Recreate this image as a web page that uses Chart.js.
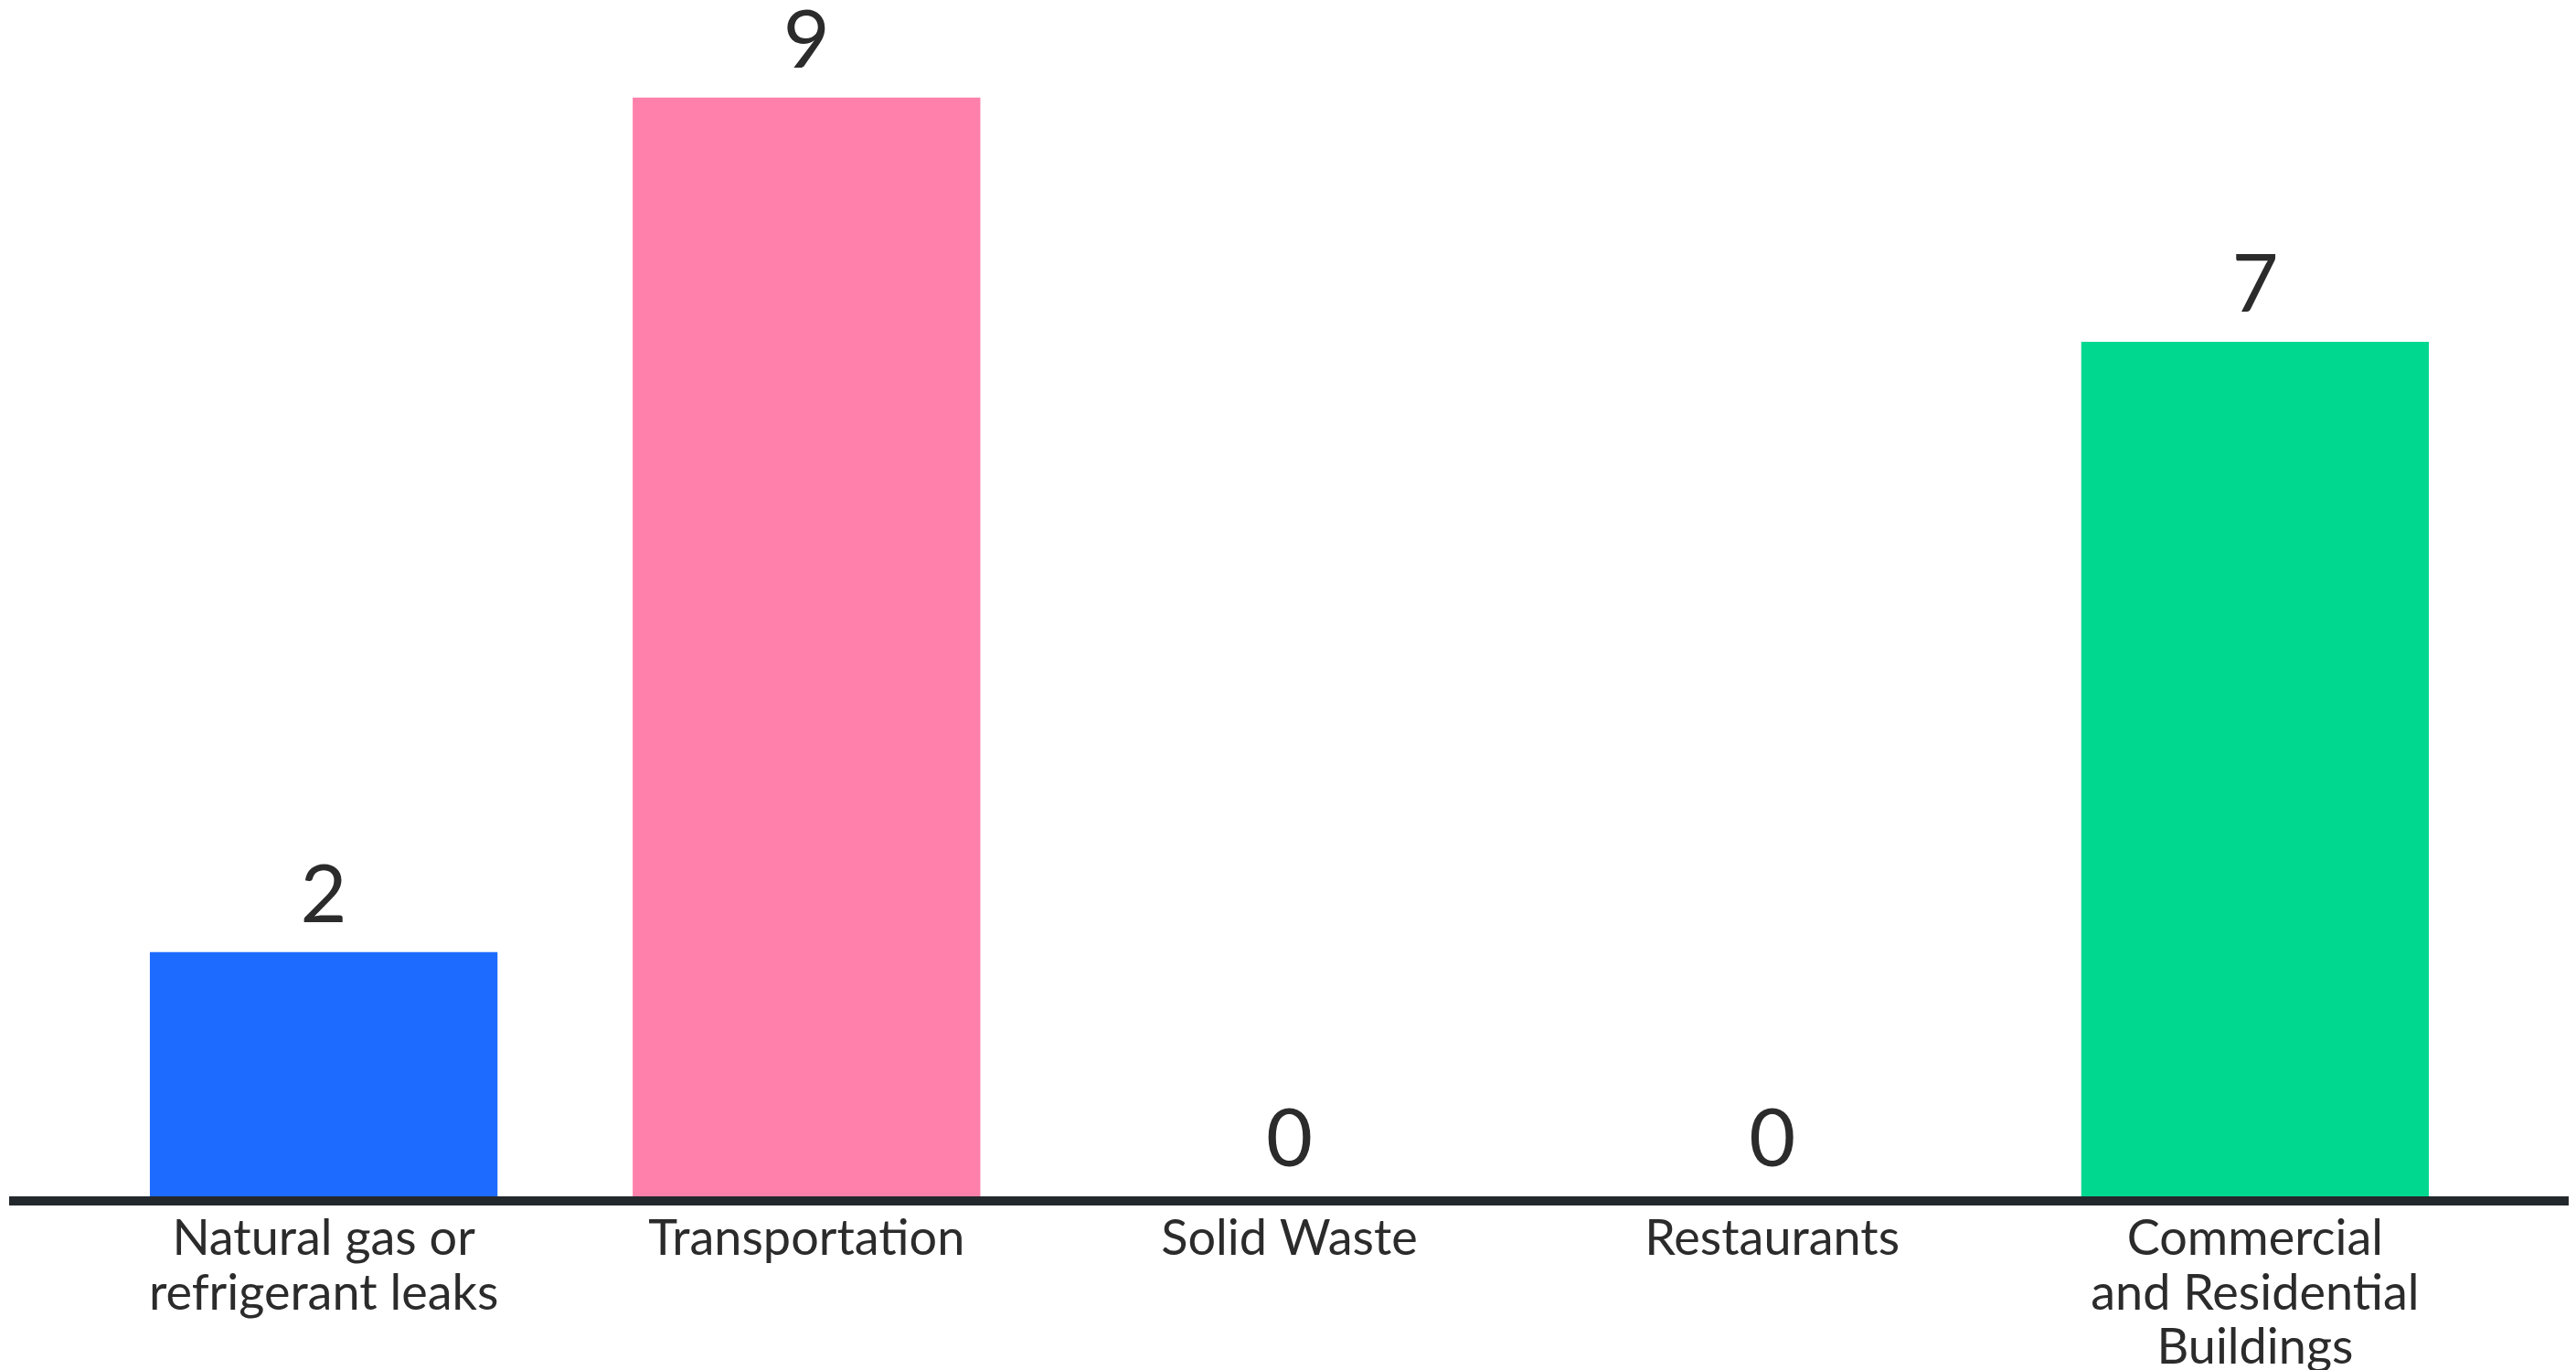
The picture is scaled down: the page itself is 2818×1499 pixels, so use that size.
<!DOCTYPE html>
<html>
<head>
<meta charset="utf-8">
<script src="https://cdn.jsdelivr.net/npm/chart.js@4.4.1/dist/chart.umd.min.js"></script>
<style>
  html, body { margin: 0; padding: 0; background: #fff; overflow: hidden; }
  #wrap { width: 2818px; height: 1499px; }
</style>
</head>
<body>
<div id="wrap"><canvas id="myChart" width="2818" height="1499"></canvas></div>
<script>
const categories = [
  ['Natural gas or', 'refrigerant leaks'],
  'Transportation',
  'Solid Waste',
  'Restaurants',
  ['Commercial', 'and Residential', 'Buildings']
];
const counts = [2, 9, 0, 0, 7];
const barColors = ['#1e6bff', '#ff80aa', '#ff80aa', '#ff80aa', '#00d890'];

const textColor = '#2b2b2b';

// value numbers above each bar
const valueLabels = {
  id: 'valueLabels',
  afterDatasetsDraw(chart) {
    const ctx = chart.ctx;
    const meta = chart.getDatasetMeta(0);
    ctx.save();
    ctx.fillStyle = textColor;
    ctx.font = '88px Lato';
    ctx.textAlign = 'center';
    ctx.textBaseline = 'alphabetic';
    meta.data.forEach((bar, i) => {
      ctx.fillText(String(counts[i]), bar.x, bar.y - 33);
    });
    ctx.restore();
  }
};

// thick baseline running across the whole width
const baseLine = {
  id: 'baseLine',
  afterDatasetsDraw(chart) {
    const ctx = chart.ctx;
    const y = chart.scales.y.getPixelForValue(0) + 5;
    ctx.save();
    ctx.strokeStyle = '#23282c';
    ctx.lineWidth = 10;
    ctx.beginPath();
    ctx.moveTo(10, y);
    ctx.lineTo(2810, y);
    ctx.stroke();
    ctx.restore();
  }
};

const ctx = document.getElementById('myChart').getContext('2d');
new Chart(ctx, {
  type: 'bar',
  data: {
    labels: categories,
    datasets: [{
      data: counts,
      backgroundColor: barColors,
      borderWidth: 0,
      categoryPercentage: 0.72,
      barPercentage: 1.0
    }]
  },
  options: {
    responsive: false,
    animation: false,
    devicePixelRatio: 1,
    layout: { padding: { left: 90, right: 87, top: 0, bottom: 0 } },
    plugins: {
      legend: { display: false },
      tooltip: { enabled: false }
    },
    scales: {
      x: {
        grid: { display: false, drawTicks: false },
        border: { display: false },
        afterFit: s => { s.height = 190; },
        ticks: {
          color: textColor,
          padding: 17,
          maxRotation: 0,
          autoSkip: false,
          font: { family: 'Lato', size: 54, lineHeight: 1.1 }
        }
      },
      y: {
        display: false,
        min: 0,
        max: 9.8
      }
    }
  },
  plugins: [valueLabels, baseLine]
});
</script>
</body>
</html>
